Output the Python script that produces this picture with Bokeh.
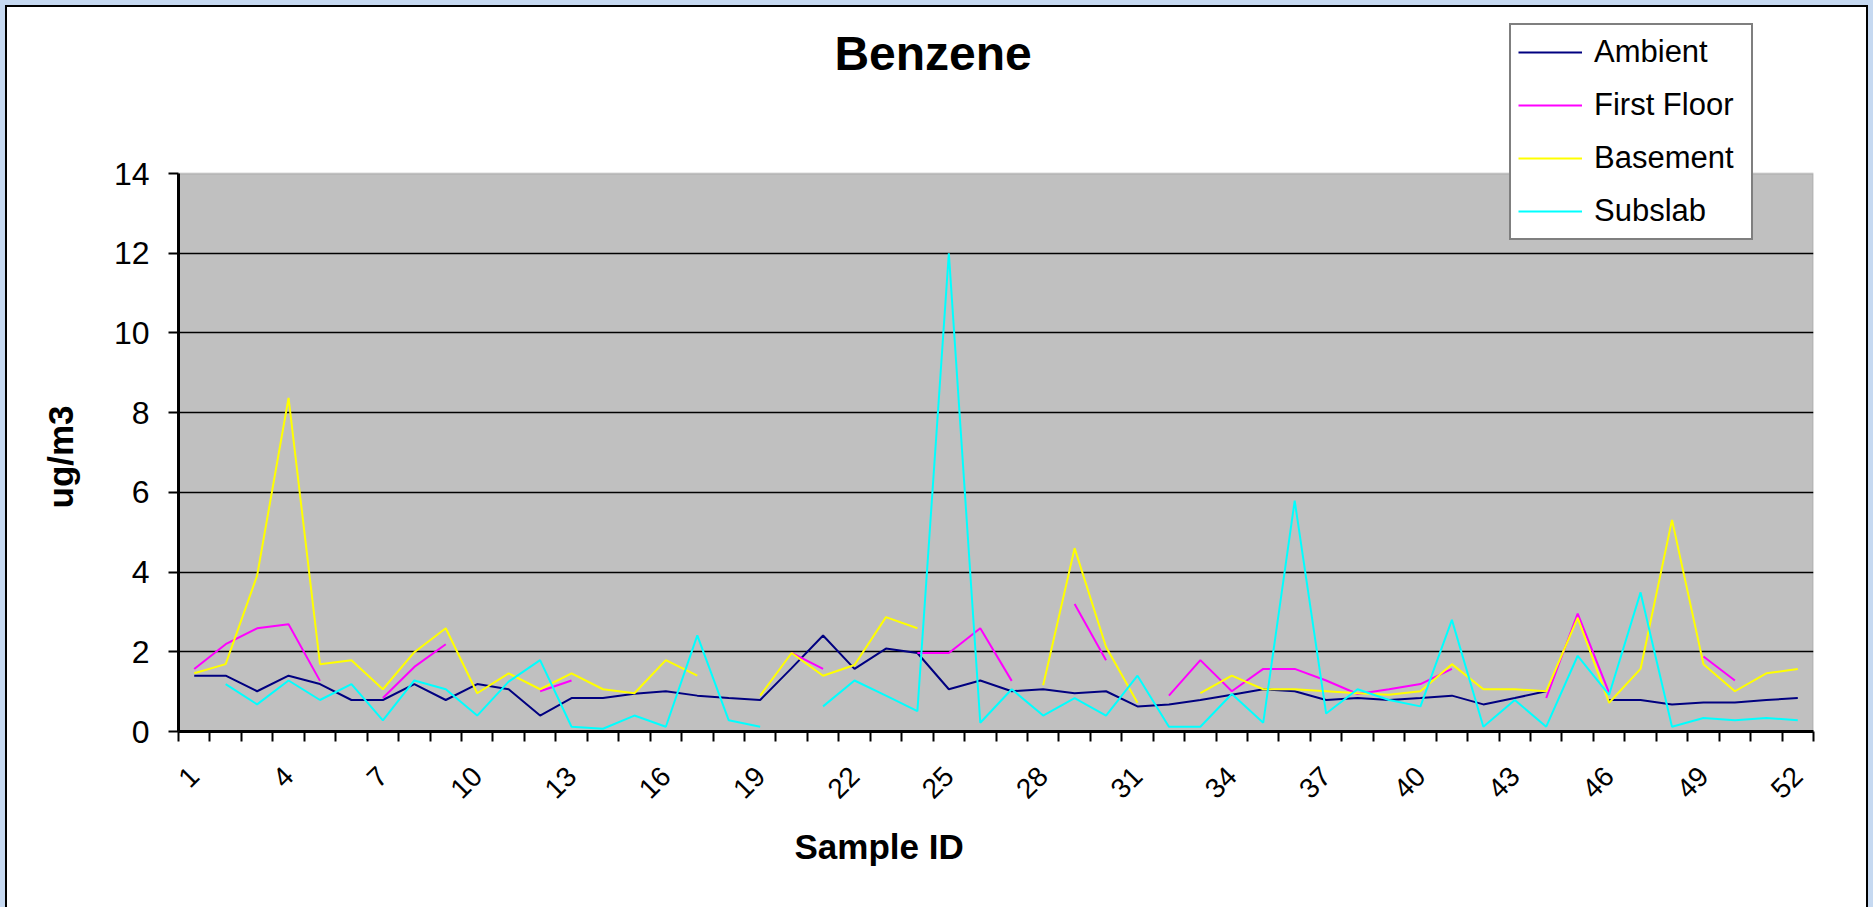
import math
from bokeh.plotting import figure
from bokeh.models import FixedTicker, Range1d, Label, Legend, LegendItem, BoxAnnotation, Title
from bokeh.embed import file_html
from bokeh.resources import INLINE

nan = float("nan")

sample_id = list(range(1, 53))

ambient = [1.40, 1.40, 1.01, 1.40, 1.19, 0.79, 0.79, 1.19, 0.79, 1.19,
           1.06, 0.40, 0.84, 0.84, 0.95, 1.01, 0.90, 0.84, 0.79, 1.59,
           2.41, 1.57, 2.08, 1.97, 1.06, 1.28, 1.01, 1.06, 0.96, 1.01,
           0.63, 0.68, 0.79, 0.92, 1.06, 1.01, 0.79, 0.84, 0.79, 0.84,
           0.90, 0.68, 0.84, 1.01, nan, 0.79, 0.79, 0.68, 0.73, 0.73,
           0.79, 0.84]

first_floor = [1.57, 2.19, 2.59, 2.69, 1.27, nan, 0.84, 1.62, 2.19, nan,
               nan, 1.01, 1.28, nan, nan, nan, nan, nan, nan, 1.97,
               1.57, nan, nan, 1.97, 1.97, 2.59, 1.27, nan, 3.20, 1.79,
               nan, 0.90, 1.79, 1.01, 1.57, 1.57, 1.28, 0.94, 1.06, 1.19,
               1.57, nan, nan, 0.84, 2.96, 0.97, nan, nan, 1.88, 1.28,
               nan, nan]

basement = [1.46, 1.69, 3.91, 8.37, 1.69, 1.79, 1.06, 1.99, 2.59, 0.96,
            1.46, 1.06, 1.46, 1.06, 0.96, 1.79, 1.40, nan, 0.90, 1.97,
            1.40, 1.67, 2.87, 2.59, nan, nan, nan, 1.16, 4.60, 2.12,
            0.72, nan, 0.96, 1.40, 1.06, 1.06, 1.01, 0.96, 0.92, 1.01,
            1.69, 1.06, 1.06, 1.01, 2.85, 0.72, 1.57, 5.31, 1.69, 1.01,
            1.46, 1.57]

subslab = [nan, 1.19, 0.68, 1.28, 0.79, 1.19, 0.28, 1.28, 1.06, 0.40,
           1.25, 1.79, 0.12, 0.07, 0.40, 0.12, 2.41, 0.28, 0.12, nan,
           0.63, 1.28, 0.90, 0.51, 12.00, 0.22, 1.06, 0.40, 0.84, 0.40,
           1.40, 0.12, 0.12, 0.94, 0.22, 5.79, 0.45, 1.06, 0.79, 0.63,
           2.80, 0.12, 0.79, 0.12, 1.90, 0.92, 3.49, 0.12, 0.34, 0.28,
           0.34, 0.28]

series_names = ["Ambient", "First Floor", "Basement", "Subslab"]
series_colors = ["#000080", "#FF00FF", "#FFFF00", "#00FFFF"]

x_tick_labels = [1, 4, 7, 10, 13, 16, 19, 22, 25, 28, 31, 34, 37, 40, 43, 46, 49, 52]
x_boundaries = [i + 0.5 for i in range(0, 53)]
y_ticks = [0, 2, 4, 6, 8, 10, 12, 14]
y_grid_ticks = [2, 4, 6, 8, 10, 12]

FONT = "Liberation Sans"

# frame: left 178, right 1813, top 10, bottom 731 (page px); 0..14 spans 173..731
Y_TOP = 14 + (173 - 10) / (558 / 14)

p = figure(width=1873, height=907, output_backend="svg", toolbar_location=None, title=None,
           x_range=Range1d(0.5, 52.5), y_range=Range1d(0, Y_TOP),
           min_border_left=178, min_border_right=60,
           min_border_top=10, min_border_bottom=176)

p.background_fill_alpha = 0
p.border_fill_alpha = 0
p.outline_line_color = None
p.styles = {"background-color": "white",
            "box-shadow": ("inset 5px 5px 0 0 #C6D9F1, inset -5px 0 0 0 #C6D9F1, "
                           "inset 7px 7px 0 0 #000000, inset -7px 0 0 0 #000000")}

plot_area = BoxAnnotation(left=0.5, right=52.5, bottom=0, top=14,
                          fill_color="#C0C0C0", fill_alpha=1,
                          line_color="#808080", line_width=2, level="image")
p.add_layout(plot_area)

# y axis
ya = p.yaxis[0]
ya.ticker = FixedTicker(ticks=y_ticks)
ya.bounds = (0, 14)
ya.axis_line_color = "black"
ya.axis_line_width = 3
ya.major_tick_out = 10
ya.major_tick_in = 0
ya.major_tick_line_width = 2
ya.minor_tick_out = 0
ya.minor_tick_in = 0
ya.major_label_text_font = FONT
ya.major_label_text_font_size = "32px"
ya.major_label_text_color = "black"
ya.major_label_standoff = 19

ylabel = Title(text="ug/m3", align="left", offset=223, text_font=FONT,
               text_font_style="bold", text_font_size="35px", text_color="black",
               standoff=62)
p.add_layout(ylabel, "left")

# x axis
xa = p.xaxis[0]
xa.ticker = FixedTicker(ticks=x_tick_labels, minor_ticks=x_boundaries)
xa.axis_line_color = "black"
xa.axis_line_width = 3
xa.major_tick_out = 0
xa.major_tick_in = 0
xa.minor_tick_out = 10
xa.minor_tick_in = 0
xa.minor_tick_line_color = "black"
xa.minor_tick_line_width = 2
xa.major_label_orientation = math.pi / 4
xa.major_label_text_font = FONT
xa.major_label_text_font_size = "28px"
xa.major_label_text_color = "black"
xa.major_label_standoff = 30

p.xgrid.visible = False
p.ygrid.ticker = FixedTicker(ticks=y_grid_ticks)
p.ygrid.grid_line_color = "black"
p.ygrid.grid_line_width = 1.5

series = [ambient, first_floor, basement, subslab]
renderers = []
for vals, col in zip(series, series_colors):
    r = p.line(sample_id, vals, line_color=col, line_width=2)
    renderers.append(r)

legend = Legend(items=[LegendItem(label=n, renderers=[r]) for n, r in zip(series_names, renderers)],
                location=(1331, 491))
legend.border_line_color = "black"
legend.border_line_width = 2
legend.background_fill_color = "white"
legend.background_fill_alpha = 1
legend.label_text_font = FONT
legend.label_text_font_size = "31px"
legend.label_text_color = "black"
legend.glyph_width = 64
legend.glyph_height = 40
legend.label_height = 40
legend.label_width = 150
legend.spacing = 13
legend.padding = 7
legend.margin = 0
legend.label_standoff = 12
p.add_layout(legend, "center")

title = Label(x=24.5, y=17.0, text="Benzene", text_font=FONT, text_font_style="bold",
              text_font_size="48px", text_align="center", text_baseline="middle",
              text_color="black")
p.add_layout(title)

xlabel = Title(text="Sample ID", align="left", offset=616, text_font=FONT,
               text_font_style="bold", text_font_size="35px", text_color="black",
               standoff=30)
p.add_layout(xlabel, "below")

open("out.html", "w").write(file_html(p, INLINE))
